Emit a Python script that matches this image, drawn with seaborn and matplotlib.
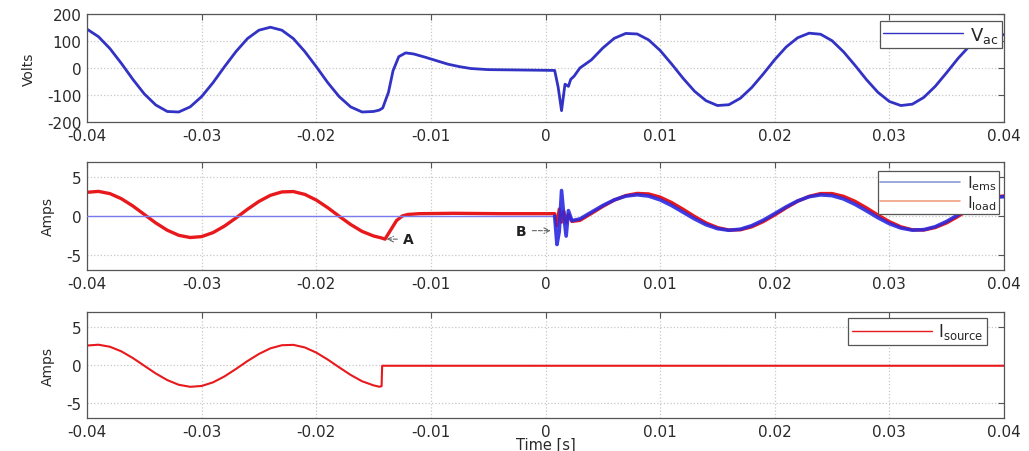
import numpy as np
import matplotlib
matplotlib.use("Agg")
import matplotlib.pyplot as plt
from matplotlib.lines import Line2D
import seaborn as sns

# ---- data (time in ms) ----
vac_t_ms = [-40, -39, -38, -37, -36, -35, -34, -33, -32, -31, -30, -29, -28, -27, -26,
            -25, -24, -23, -22, -21, -20, -19, -18, -17, -16, -15,
            -14.5, -14.2, -13.7, -13.3, -12.8, -12.2, -11.5, -10.5, -9.5, -8.5, -7.5,
            -6.5, -5, -3, -1, 0.8, 1.1, 1.4, 1.7, 2.0, 2.2, 2.5, 3,
            4, 5, 6, 7, 8, 9, 10, 11, 12, 13, 14, 15, 16, 17, 18, 19, 20, 21, 22,
            23, 24, 25, 26, 27, 28, 29, 30, 31, 32, 33, 34, 35, 36, 37, 38, 39, 40]
vac_v = [144, 116, 72, 17, -42, -96, -137, -161, -163, -144, -106, -54, 5, 61, 109,
         140, 151, 140, 109, 61, 5, -54, -106, -144, -163, -161,
         -156, -148, -90, -10, 42, 56, 52, 40, 27, 14, 5,
         -2, -6, -7, -8, -9, -70, -158, -60, -68, -42, -30, 0,
         30, 74, 110, 128, 126, 104, 65, 15, -38, -86, -121, -139, -136, -112, -72, -22, 31, 78, 112,
         129, 125, 101, 60, 10, -43, -90, -124, -139, -134, -109, -68, -17, 36, 82, 115, 130, 123]

load_t_ms = [-40, -39, -38, -37, -36, -35, -34, -33, -32, -31, -30, -29, -28, -27, -26,
             -25, -24, -23, -22, -21, -20, -19, -18, -17, -16, -15,
             -14.3, -14.0, -13.5, -13.0, -12.5, -12.0, -11, -8, -4, 0, 0.8,
             1.0, 1.2, 1.4, 1.6, 1.8, 2.0, 2.3, 3,
             4, 5, 6, 7, 8, 9, 10, 11, 12, 13, 14, 15, 16, 17, 18, 19, 20, 21, 22,
             23, 24, 25, 26, 27, 28, 29, 30, 31, 32, 33, 34, 35, 36, 37, 38, 39, 40]
load_i = [3.07, 3.19, 2.90, 2.24, 1.30, 0.2, -0.90, -1.84, -2.50, -2.79, -2.67, -2.15, -1.3, -0.25, 0.87,
          1.89, 2.68, 3.12, 3.17, 2.80, 2.07, 1.08, -0.03, -1.10, -2.0, -2.59,
          -2.85, -3.0, -1.8, -0.6, 0.0, 0.2, 0.3, 0.35, 0.3, 0.3, 0.3,
          -1.3, 0.9, -0.8, 0.6, -0.9, 0.2, -0.7, -0.57,
          0.32, 1.24, 2.06, 2.65, 2.93, 2.86, 2.45, 1.75, 0.88, -0.05, -0.89, -1.50, -1.82, -1.79, -1.40,
          -0.73, 0.13, 1.06, 1.91, 2.55, 2.91, 2.91, 2.55, 1.91, 1.06, 0.13, -0.73, -1.40, -1.79, -1.82,
          -1.50, -0.89, -0.05, 0.88, 1.75, 2.45, 2.6]

ems_t_ms = [-40, 0.8, 1.0, 1.2, 1.4, 1.6, 1.8, 2.0, 2.3, 3,
            4, 5, 6, 7, 8, 9, 10, 11, 12, 13, 14, 15, 16, 17, 18, 19, 20, 21, 22,
            23, 24, 25, 26, 27, 28, 29, 30, 31, 32, 33, 34, 35, 36, 37, 38, 39, 40]
ems_i = [0.0, 0.0, -3.7, -2.0, 3.3, 0.0, -2.6, 0.7, -0.6, -0.38,
         0.49, 1.36, 2.09, 2.58, 2.75, 2.58, 2.09, 1.36, 0.49, -0.38, -1.13, -1.64, -1.85, -1.71, -1.25,
         -0.54, 0.31, 1.19, 1.96, 2.50, 2.74, 2.64, 2.21, 1.51, 0.67, -0.22, -1.0, -1.56, -1.83, -1.77,
         -1.39, -0.70, 0.16, 1.06, 1.84, 2.43, 2.5]

src_t_ms = [-40, -39, -38, -37, -36, -35, -34, -33, -32, -31, -30, -29, -28, -27, -26,
            -25, -24, -23, -22, -21, -20, -19, -18, -17, -16, -15,
            -14.5, -14.3, -14.25, 40]
src_i = [2.57, 2.68, 2.41, 1.80, 0.92, -0.1, -1.12, -1.99, -2.61, -2.88, -2.77, -2.29, -1.50, -0.52, 0.52,
         1.46, 2.20, 2.61, 2.66, 2.32, 1.64, 0.72, -0.31, -1.31, -2.15, -2.69,
         -2.87, -2.8, -0.1, -0.1]

x_ticks = [-0.04, -0.03, -0.02, -0.01, 0, 0.01, 0.02, 0.03, 0.04]
x_ticklabels = ["-0.04", "-0.03", "-0.02", "-0.01", "0", "0.01", "0.02", "0.03", "0.04"]
v_ticks = [-200, -100, 0, 100, 200]
i_ticks = [-5, 0, 5]

sns.set_theme(style="white")
plt.rcParams['font.family'] = ['DejaVu Sans']
plt.rcParams['axes.unicode_minus'] = False
plt.rcParams['mathtext.default'] = 'regular'

fig = plt.figure(figsize=(10.29, 4.52), dpi=100)
W, H = 1029, 452


def make_ax(left, top, right, bottom):
    return fig.add_axes([left / W, 1 - bottom / H, (right - left) / W, (bottom - top) / H])


ax1 = make_ax(87, 15, 1004, 123)
ax2 = make_ax(87, 163, 1004, 271)
ax3 = make_ax(87, 313, 1004, 419)

blue = "#3232c4"
red = "#e8191c"

t = lambda ms: np.array(ms) / 1000.0

sns.lineplot(x=t(vac_t_ms), y=vac_v, ax=ax1, color=blue, lw=2.0, sort=False,
             estimator=None, label="V$_{ac}$")

ems_t = t(ems_t_ms)
sns.lineplot(x=t(load_t_ms), y=load_i, ax=ax2, color=red, lw=2.4, sort=False,
             estimator=None, zorder=2)
sns.lineplot(x=ems_t[:2], y=ems_i[:2], ax=ax2, color="#7a7af0", lw=1.0, sort=False,
             estimator=None, zorder=3)
sns.lineplot(x=ems_t[1:], y=ems_i[1:], ax=ax2, color="#2a2ae0", lw=2.6, sort=False,
             estimator=None, alpha=0.9, zorder=3)

sns.lineplot(x=t(src_t_ms), y=src_i, ax=ax3, color=red, lw=1.5, sort=False,
             estimator=None, label="I$_{source}$")

for ax, yt, ylim, ylab in [(ax1, v_ticks, (-200, 200), "Volts"),
                           (ax2, i_ticks, (-7, 7), "Amps"),
                           (ax3, i_ticks, (-7, 7), "Amps")]:
    ax.set_xlim(-0.04, 0.04)
    ax.set_ylim(*ylim)
    ax.set_xticks(x_ticks)
    ax.set_xticklabels(x_ticklabels)
    ax.set_yticks(yt)
    ax.set_yticklabels([str(v) for v in yt])
    ax.grid(True, color="#c8c8c8", linestyle=":", linewidth=0.9)
    ax.tick_params(direction="in", length=4, width=0.8, top=True, right=True,
                   labelsize=11, labelcolor="#2a2a2a", color="#555555", pad=4)
    for s in ax.spines.values():
        s.set_color("#555555")
        s.set_linewidth(0.9)
    ax.set_ylabel(ylab, fontsize=10, color="#2a2a2a", labelpad=8)
    ax.set_xlabel("")

ax3.set_xlabel("Time [s]", fontsize=10.5, color="#2a2a2a", labelpad=-1)

# legends in MATLAB style
leg1 = ax1.legend(loc="upper right", bbox_to_anchor=(0.998, 0.935), borderaxespad=0,
                  handlelength=4.4, fancybox=False, edgecolor="#555555", framealpha=1,
                  fontsize=13, borderpad=0.2, handletextpad=0.4)
h_ems = Line2D([], [], color="#8a9ad8", lw=1.2)
h_load = Line2D([], [], color="#f0a080", lw=1.2)
leg2 = ax2.legend([h_ems, h_load], ["I$_{ems}$", "I$_{load}$"], loc="upper right",
                  bbox_to_anchor=(0.9945, 0.917), borderaxespad=0, handlelength=5.0,
                  fancybox=False, edgecolor="#555555", framealpha=1, fontsize=11.5,
                  borderpad=0.15, labelspacing=0.05, handletextpad=0.4)
leg3 = ax3.legend(loc="upper right", bbox_to_anchor=(0.9815, 0.943), borderaxespad=0,
                  handlelength=4.8, fancybox=False, edgecolor="#555555", framealpha=1,
                  fontsize=12, borderpad=0.2, handletextpad=0.4)
for leg in (leg1, leg3):
    for ln in leg.get_lines():
        ln.set_linewidth(1.0)
for leg in (leg1, leg2, leg3):
    leg.get_frame().set_linewidth(0.9)

arrow = dict(arrowstyle="->", color="#666666", lw=0.8, linestyle="--")
ax2.annotate("A", xy=(-0.0141, -3.0), xytext=(-0.0124, -3.0), fontsize=10,
             fontweight="bold", color="#222222", va="center", ha="left", arrowprops=arrow)
ax2.annotate("B", xy=(0.0007, -1.9), xytext=(-0.0026, -1.9), fontsize=10,
             fontweight="bold", color="#222222", va="center", ha="left", arrowprops=arrow)

fig.savefig("out.png", dpi=100, facecolor="white")
